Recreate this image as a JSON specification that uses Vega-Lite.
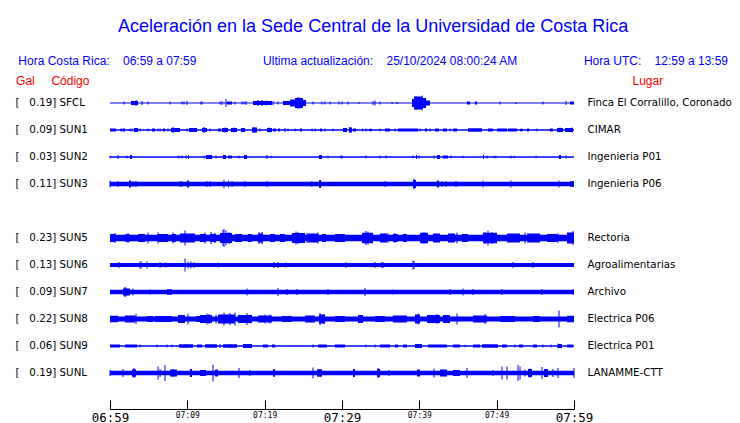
{
  "$schema": "https://vega.github.io/schema/vega-lite/v6.json",
  "width": 464,
  "height": 297,
  "autosize": "none",
  "padding": {"left": 110, "top": 89.5, "right": 166, "bottom": 36.5},
  "background": "white",
  "title": {
    "text": "Aceleración en la Sede Central de la Universidad de Costa Rica",
    "subtitle": "Hora Costa Rica:\u00a0\u00a0\u00a0\u00a006:59 a 07:59\u00a0\u00a0\u00a0\u00a0\u00a0\u00a0\u00a0\u00a0\u00a0\u00a0\u00a0\u00a0\u00a0\u00a0\u00a0\u00a0\u00a0\u00a0\u00a0\u00a0Ultima actualización:\u00a0\u00a0\u00a0\u00a025/10/2024 08:00:24 AM\u00a0\u00a0\u00a0\u00a0\u00a0\u00a0\u00a0\u00a0\u00a0\u00a0\u00a0\u00a0\u00a0\u00a0\u00a0\u00a0\u00a0\u00a0\u00a0\u00a0Hora UTC:\u00a0\u00a0\u00a0\u00a012:59 a 13:59\u00a0\u00a0",
    "anchor": "middle",
    "frame": "bounds",
    "font": "Liberation Sans",
    "fontSize": 18,
    "fontWeight": "normal",
    "color": "#0000ff",
    "subtitleFont": "Liberation Sans",
    "subtitleFontSize": 12,
    "subtitleColor": "#0000ff",
    "subtitlePadding": 20,
    "offset": 7
  },
  "config": {"view": {"stroke": null}, "axis": {"grid": false}},
  "datasets": {
    "stations": [
      {"row": 0, "code": "SFCL", "label": "[\u00a0\u00a0\u00a00.19] SFCL", "lugar": "Finca El Corralillo, Coronado", "noise": 1.2},
      {"row": 1, "code": "SUN1", "label": "[\u00a0\u00a0\u00a00.09] SUN1", "lugar": "CIMAR", "noise": 1.6},
      {"row": 2, "code": "SUN2", "label": "[\u00a0\u00a0\u00a00.03] SUN2", "lugar": "Ingenieria P01", "noise": 1.5},
      {"row": 3, "code": "SUN3", "label": "[\u00a0\u00a0\u00a00.11] SUN3", "lugar": "Ingenieria P06", "noise": 4.5},
      {"row": 4, "code": "SUN4", "label": "", "lugar": "", "noise": 0},
      {"row": 5, "code": "SUN5", "label": "[\u00a0\u00a0\u00a00.23] SUN5", "lugar": "Rectoria", "noise": 6.5},
      {"row": 6, "code": "SUN6", "label": "[\u00a0\u00a0\u00a00.13] SUN6", "lugar": "Agroalimentarias", "noise": 4},
      {"row": 7, "code": "SUN7", "label": "[\u00a0\u00a0\u00a00.09] SUN7", "lugar": "Archivo", "noise": 4.5},
      {"row": 8, "code": "SUN8", "label": "[\u00a0\u00a0\u00a00.22] SUN8", "lugar": "Electrica P06", "noise": 5},
      {"row": 9, "code": "SUN9", "label": "[\u00a0\u00a0\u00a00.06] SUN9", "lugar": "Electrica P01", "noise": 1.5},
      {"row": 10, "code": "SUNL", "label": "[\u00a0\u00a0\u00a00.19] SUNL", "lugar": "LANAMME-CTT", "noise": 4.5}
    ],
    "bursts": [
      {"code": "SFCL", "t": 2.72, "t2": 3.62, "a": 4},
      {"code": "SFCL", "t": 15.13, "t2": 15.78, "a": 3},
      {"code": "SFCL", "t": 18.49, "t2": 20.95, "a": 4},
      {"code": "SFCL", "t": 22.37, "t2": 23.28, "a": 4},
      {"code": "SFCL", "t": 23.28, "t2": 23.92, "a": 7},
      {"code": "SFCL", "t": 23.92, "t2": 24.96, "a": 10},
      {"code": "SFCL", "t": 24.96, "t2": 25.35, "a": 6},
      {"code": "SFCL", "t": 39.05, "t2": 39.31, "a": 8},
      {"code": "SFCL", "t": 39.31, "t2": 40.34, "a": 13},
      {"code": "SFCL", "t": 40.34, "t2": 40.86, "a": 10},
      {"code": "SFCL", "t": 40.86, "t2": 41.38, "a": 5},
      {"code": "SFCL", "t": 46.16, "t2": 46.55, "a": 3},
      {"code": "SFCL", "t": 47.2, "t2": 47.46, "a": 3},
      {"code": "SFCL", "t": 59.48, "t2": 60, "a": 3},
      {"code": "SUN1", "t": 0, "t2": 0.78, "a": 3},
      {"code": "SUN1", "t": 1.68, "t2": 1.94, "a": 3},
      {"code": "SUN1", "t": 3.1, "t2": 3.62, "a": 4},
      {"code": "SUN1", "t": 5.43, "t2": 5.82, "a": 3},
      {"code": "SUN1", "t": 6.85, "t2": 7.11, "a": 3},
      {"code": "SUN1", "t": 7.89, "t2": 9.05, "a": 4},
      {"code": "SUN1", "t": 10.22, "t2": 11.25, "a": 4},
      {"code": "SUN1", "t": 11.9, "t2": 12.54, "a": 4},
      {"code": "SUN1", "t": 13.97, "t2": 14.35, "a": 3},
      {"code": "SUN1", "t": 14.48, "t2": 15.26, "a": 4},
      {"code": "SUN1", "t": 15.65, "t2": 16.42, "a": 4},
      {"code": "SUN1", "t": 16.94, "t2": 17.46, "a": 4},
      {"code": "SUN1", "t": 18.36, "t2": 19.01, "a": 5},
      {"code": "SUN1", "t": 20.3, "t2": 20.95, "a": 4},
      {"code": "SUN1", "t": 21.08, "t2": 21.47, "a": 3},
      {"code": "SUN1", "t": 21.72, "t2": 21.98, "a": 3},
      {"code": "SUN1", "t": 24.57, "t2": 24.83, "a": 3},
      {"code": "SUN1", "t": 27.16, "t2": 27.41, "a": 3},
      {"code": "SUN1", "t": 30.13, "t2": 30.65, "a": 4},
      {"code": "SUN1", "t": 30.91, "t2": 31.29, "a": 5},
      {"code": "SUN1", "t": 31.42, "t2": 31.81, "a": 3},
      {"code": "SUN1", "t": 32.59, "t2": 32.72, "a": 3},
      {"code": "SUN1", "t": 33.49, "t2": 33.88, "a": 2.5},
      {"code": "SUN1", "t": 35.56, "t2": 36.21, "a": 3},
      {"code": "SUN1", "t": 37.24, "t2": 39.83, "a": 3},
      {"code": "SUN1", "t": 40.73, "t2": 40.99, "a": 3},
      {"code": "SUN1", "t": 42.03, "t2": 42.54, "a": 3},
      {"code": "SUN1", "t": 43.06, "t2": 43.58, "a": 3},
      {"code": "SUN1", "t": 44.35, "t2": 44.87, "a": 3},
      {"code": "SUN1", "t": 46.29, "t2": 48.1, "a": 3.5},
      {"code": "SUN1", "t": 48.88, "t2": 49.52, "a": 3},
      {"code": "SUN1", "t": 50.04, "t2": 51.34, "a": 3},
      {"code": "SUN1", "t": 51.47, "t2": 52.63, "a": 3},
      {"code": "SUN1", "t": 53.02, "t2": 53.41, "a": 2.5},
      {"code": "SUN1", "t": 53.92, "t2": 54.18, "a": 3},
      {"code": "SUN1", "t": 56.9, "t2": 57.28, "a": 3},
      {"code": "SUN1", "t": 57.8, "t2": 58.58, "a": 4},
      {"code": "SUN1", "t": 58.84, "t2": 59.87, "a": 4},
      {"code": "SUN2", "t": 2.59, "t2": 2.84, "a": 4},
      {"code": "SUN2", "t": 10.09, "t2": 10.22, "a": 4},
      {"code": "SUN2", "t": 12.41, "t2": 13.19, "a": 4},
      {"code": "SUN2", "t": 14.61, "t2": 15, "a": 4},
      {"code": "SUN2", "t": 15.26, "t2": 15.78, "a": 3},
      {"code": "SUN2", "t": 17.33, "t2": 17.72, "a": 4},
      {"code": "SUN2", "t": 27.03, "t2": 27.41, "a": 4},
      {"code": "SUN2", "t": 39.57, "t2": 39.7, "a": 4},
      {"code": "SUN2", "t": 42.28, "t2": 42.67, "a": 4},
      {"code": "SUN2", "t": 43.06, "t2": 43.71, "a": 3},
      {"code": "SUN2", "t": 48.23, "t2": 48.36, "a": 4},
      {"code": "SUN2", "t": 58.06, "t2": 58.32, "a": 4},
      {"code": "SUN3", "t": 2.46, "t2": 2.72, "a": 7},
      {"code": "SUN3", "t": 9.96, "t2": 10.22, "a": 7},
      {"code": "SUN3", "t": 15.26, "t2": 15.39, "a": 7},
      {"code": "SUN3", "t": 27.03, "t2": 27.29, "a": 8},
      {"code": "SUN3", "t": 39.18, "t2": 39.57, "a": 8},
      {"code": "SUN3", "t": 42.28, "t2": 42.54, "a": 7},
      {"code": "SUN3", "t": 59.48, "t2": 60, "a": 5.5},
      {"code": "SUN5", "t": 0, "t2": 0.65, "a": 8},
      {"code": "SUN5", "t": 1.94, "t2": 2.59, "a": 7.5},
      {"code": "SUN5", "t": 3.62, "t2": 4.53, "a": 8},
      {"code": "SUN5", "t": 6.21, "t2": 7.5, "a": 8},
      {"code": "SUN5", "t": 8.02, "t2": 8.53, "a": 8},
      {"code": "SUN5", "t": 9.05, "t2": 10.99, "a": 9},
      {"code": "SUN5", "t": 11.64, "t2": 12.41, "a": 8},
      {"code": "SUN5", "t": 12.93, "t2": 13.71, "a": 8},
      {"code": "SUN5", "t": 14.22, "t2": 15.78, "a": 10},
      {"code": "SUN5", "t": 16.16, "t2": 17.07, "a": 8},
      {"code": "SUN5", "t": 17.84, "t2": 18.36, "a": 8},
      {"code": "SUN5", "t": 19.14, "t2": 19.78, "a": 9},
      {"code": "SUN5", "t": 20.69, "t2": 21.34, "a": 8},
      {"code": "SUN5", "t": 21.98, "t2": 22.63, "a": 8},
      {"code": "SUN5", "t": 23.53, "t2": 25.22, "a": 10},
      {"code": "SUN5", "t": 25.6, "t2": 26.9, "a": 9},
      {"code": "SUN5", "t": 27.41, "t2": 27.93, "a": 8},
      {"code": "SUN5", "t": 29.09, "t2": 30.39, "a": 8},
      {"code": "SUN5", "t": 32.59, "t2": 34.01, "a": 10.5},
      {"code": "SUN5", "t": 34.91, "t2": 35.82, "a": 9},
      {"code": "SUN5", "t": 36.59, "t2": 37.24, "a": 8},
      {"code": "SUN5", "t": 37.89, "t2": 38.4, "a": 8},
      {"code": "SUN5", "t": 40.09, "t2": 41.12, "a": 10.5},
      {"code": "SUN5", "t": 41.77, "t2": 42.67, "a": 9},
      {"code": "SUN5", "t": 43.71, "t2": 44.61, "a": 9},
      {"code": "SUN5", "t": 45.52, "t2": 46.29, "a": 8},
      {"code": "SUN5", "t": 48.23, "t2": 50.04, "a": 10.5},
      {"code": "SUN5", "t": 51.34, "t2": 53.02, "a": 9},
      {"code": "SUN5", "t": 53.92, "t2": 55.6, "a": 9},
      {"code": "SUN5", "t": 56.51, "t2": 57.8, "a": 8},
      {"code": "SUN5", "t": 59.1, "t2": 60, "a": 11},
      {"code": "SUN7", "t": 1.68, "t2": 2.59, "a": 7},
      {"code": "SUN7", "t": 7.37, "t2": 8.02, "a": 5.5},
      {"code": "SUN8", "t": 0, "t2": 1.03, "a": 6.5},
      {"code": "SUN8", "t": 1.94, "t2": 3.23, "a": 7},
      {"code": "SUN8", "t": 4.78, "t2": 5.56, "a": 6},
      {"code": "SUN8", "t": 5.82, "t2": 8.02, "a": 6},
      {"code": "SUN8", "t": 8.79, "t2": 9.7, "a": 8},
      {"code": "SUN8", "t": 11.12, "t2": 11.64, "a": 6},
      {"code": "SUN8", "t": 11.64, "t2": 13.19, "a": 8},
      {"code": "SUN8", "t": 13.97, "t2": 16.16, "a": 9},
      {"code": "SUN8", "t": 16.55, "t2": 18.36, "a": 8},
      {"code": "SUN8", "t": 19.14, "t2": 20.95, "a": 7},
      {"code": "SUN8", "t": 22.24, "t2": 23.53, "a": 6},
      {"code": "SUN8", "t": 25.22, "t2": 26.51, "a": 7},
      {"code": "SUN8", "t": 27.03, "t2": 27.8, "a": 9},
      {"code": "SUN8", "t": 29.09, "t2": 30.39, "a": 6},
      {"code": "SUN8", "t": 32.07, "t2": 32.72, "a": 8},
      {"code": "SUN8", "t": 34.27, "t2": 35.56, "a": 6},
      {"code": "SUN8", "t": 36.59, "t2": 38.4, "a": 7},
      {"code": "SUN8", "t": 39.44, "t2": 40.09, "a": 9},
      {"code": "SUN8", "t": 40.99, "t2": 42.67, "a": 8},
      {"code": "SUN8", "t": 43.06, "t2": 43.97, "a": 8},
      {"code": "SUN8", "t": 46.94, "t2": 48.75, "a": 7},
      {"code": "SUN8", "t": 50.43, "t2": 52.37, "a": 6},
      {"code": "SUN8", "t": 54.7, "t2": 55.6, "a": 6},
      {"code": "SUN8", "t": 59.1, "t2": 60, "a": 6.5},
      {"code": "SUN9", "t": 0, "t2": 1.29, "a": 3},
      {"code": "SUN9", "t": 1.94, "t2": 3.49, "a": 3},
      {"code": "SUN9", "t": 8.92, "t2": 10.73, "a": 3.5},
      {"code": "SUN9", "t": 11.25, "t2": 11.9, "a": 3},
      {"code": "SUN9", "t": 12.28, "t2": 13.84, "a": 3.5},
      {"code": "SUN9", "t": 14.61, "t2": 16.42, "a": 3.5},
      {"code": "SUN9", "t": 17.2, "t2": 18.36, "a": 4},
      {"code": "SUN9", "t": 19.78, "t2": 20.43, "a": 3},
      {"code": "SUN9", "t": 20.95, "t2": 21.34, "a": 3},
      {"code": "SUN9", "t": 26.9, "t2": 28.06, "a": 3},
      {"code": "SUN9", "t": 29.09, "t2": 30.39, "a": 3},
      {"code": "SUN9", "t": 34.91, "t2": 36.21, "a": 3},
      {"code": "SUN9", "t": 36.85, "t2": 37.24, "a": 3},
      {"code": "SUN9", "t": 37.89, "t2": 38.4, "a": 3},
      {"code": "SUN9", "t": 39.44, "t2": 40.34, "a": 4},
      {"code": "SUN9", "t": 41.12, "t2": 43.58, "a": 3},
      {"code": "SUN9", "t": 44.35, "t2": 45.26, "a": 3},
      {"code": "SUN9", "t": 46.94, "t2": 47.84, "a": 3},
      {"code": "SUN9", "t": 48.1, "t2": 50.17, "a": 3.5},
      {"code": "SUN9", "t": 50.69, "t2": 51.34, "a": 3},
      {"code": "SUN9", "t": 52.89, "t2": 53.41, "a": 3},
      {"code": "SUN9", "t": 54.7, "t2": 55.22, "a": 3},
      {"code": "SUN9", "t": 57.93, "t2": 58.45, "a": 4},
      {"code": "SUN9", "t": 59.1, "t2": 59.87, "a": 3},
      {"code": "SUNL", "t": 2.84, "t2": 3.36, "a": 7.5},
      {"code": "SUNL", "t": 7.76, "t2": 8.66, "a": 7},
      {"code": "SUNL", "t": 10.34, "t2": 10.6, "a": 8},
      {"code": "SUNL", "t": 11.64, "t2": 12.41, "a": 6},
      {"code": "SUNL", "t": 13.58, "t2": 13.97, "a": 7},
      {"code": "SUNL", "t": 21.08, "t2": 21.34, "a": 7.5},
      {"code": "SUNL", "t": 26.77, "t2": 27.41, "a": 7.5},
      {"code": "SUNL", "t": 31.42, "t2": 31.68, "a": 8},
      {"code": "SUNL", "t": 34.53, "t2": 34.91, "a": 8},
      {"code": "SUNL", "t": 39.7, "t2": 40.09, "a": 7},
      {"code": "SUNL", "t": 42.67, "t2": 43.58, "a": 7},
      {"code": "SUNL", "t": 44.35, "t2": 45.26, "a": 6},
      {"code": "SUNL", "t": 54.05, "t2": 54.57, "a": 8},
      {"code": "SUNL", "t": 56.12, "t2": 56.64, "a": 8}
    ],
    "spikes": [
      {"code": "SFCL", "t": 1.81, "a": 3}, {"code": "SFCL", "t": 3.36, "a": 6}, {"code": "SFCL", "t": 4.14, "a": 4},
      {"code": "SFCL", "t": 4.91, "a": 3}, {"code": "SFCL", "t": 7.76, "a": 3}, {"code": "SFCL", "t": 9.31, "a": 3},
      {"code": "SFCL", "t": 9.57, "a": 3}, {"code": "SFCL", "t": 9.96, "a": 4}, {"code": "SFCL", "t": 11.77, "a": 3},
      {"code": "SFCL", "t": 11.9, "a": 3}, {"code": "SFCL", "t": 14.22, "a": 3}, {"code": "SFCL", "t": 14.48, "a": 4},
      {"code": "SFCL", "t": 15.0, "a": 8}, {"code": "SFCL", "t": 16.16, "a": 3}, {"code": "SFCL", "t": 17.07, "a": 3},
      {"code": "SFCL", "t": 17.33, "a": 3}, {"code": "SFCL", "t": 17.59, "a": 4}, {"code": "SFCL", "t": 19.14, "a": 6},
      {"code": "SFCL", "t": 19.66, "a": 6}, {"code": "SFCL", "t": 20.17, "a": 5}, {"code": "SFCL", "t": 21.08, "a": 4},
      {"code": "SFCL", "t": 21.72, "a": 3}, {"code": "SFCL", "t": 24.31, "a": 12}, {"code": "SFCL", "t": 24.57, "a": 11},
      {"code": "SFCL", "t": 24.83, "a": 10}, {"code": "SFCL", "t": 26.25, "a": 3}, {"code": "SFCL", "t": 27.41, "a": 3},
      {"code": "SFCL", "t": 27.8, "a": 3}, {"code": "SFCL", "t": 28.45, "a": 3}, {"code": "SFCL", "t": 29.61, "a": 3},
      {"code": "SFCL", "t": 30.0, "a": 3}, {"code": "SFCL", "t": 30.78, "a": 3}, {"code": "SFCL", "t": 32.2, "a": 2},
      {"code": "SFCL", "t": 34.01, "a": 4}, {"code": "SFCL", "t": 34.27, "a": 5}, {"code": "SFCL", "t": 34.91, "a": 3},
      {"code": "SFCL", "t": 36.47, "a": 2}, {"code": "SFCL", "t": 37.11, "a": 2}, {"code": "SFCL", "t": 39.57, "a": 14},
      {"code": "SFCL", "t": 40.38, "a": 15}, {"code": "SFCL", "t": 50.43, "a": 3}, {"code": "SFCL", "t": 52.5, "a": 2},
      {"code": "SFCL", "t": 55.99, "a": 3}, {"code": "SFCL", "t": 58.97, "a": 4},
      {"code": "SUN1", "t": 1.42, "a": 3}, {"code": "SUN1", "t": 1.55, "a": 3}, {"code": "SUN1", "t": 2.59, "a": 3},
      {"code": "SUN1", "t": 2.84, "a": 3}, {"code": "SUN1", "t": 3.88, "a": 3}, {"code": "SUN1", "t": 4.91, "a": 3},
      {"code": "SUN1", "t": 6.21, "a": 3}, {"code": "SUN1", "t": 6.47, "a": 3}, {"code": "SUN1", "t": 7.5, "a": 3},
      {"code": "SUN1", "t": 8.15, "a": 6}, {"code": "SUN1", "t": 9.96, "a": 3}, {"code": "SUN1", "t": 12.16, "a": 6},
      {"code": "SUN1", "t": 12.93, "a": 3}, {"code": "SUN1", "t": 14.87, "a": 5}, {"code": "SUN1", "t": 16.03, "a": 5},
      {"code": "SUN1", "t": 18.62, "a": 6}, {"code": "SUN1", "t": 19.4, "a": 3}, {"code": "SUN1", "t": 20.56, "a": 5},
      {"code": "SUN1", "t": 22.63, "a": 4}, {"code": "SUN1", "t": 23.02, "a": 3}, {"code": "SUN1", "t": 23.92, "a": 3},
      {"code": "SUN1", "t": 26.12, "a": 3}, {"code": "SUN1", "t": 26.51, "a": 3}, {"code": "SUN1", "t": 27.8, "a": 3},
      {"code": "SUN1", "t": 28.84, "a": 3}, {"code": "SUN1", "t": 31.03, "a": 6}, {"code": "SUN1", "t": 33.1, "a": 3},
      {"code": "SUN1", "t": 34.91, "a": 3}, {"code": "SUN1", "t": 36.85, "a": 3}, {"code": "SUN1", "t": 40.09, "a": 3},
      {"code": "SUN1", "t": 41.38, "a": 3}, {"code": "SUN1", "t": 43.97, "a": 3}, {"code": "SUN1", "t": 55.22, "a": 3},
      {"code": "SUN1", "t": 58.19, "a": 5}, {"code": "SUN1", "t": 59.74, "a": 5},
      {"code": "SUN2", "t": 0, "a": 3}, {"code": "SUN2", "t": 1.03, "a": 4}, {"code": "SUN2", "t": 2.2, "a": 3},
      {"code": "SUN2", "t": 8.92, "a": 3}, {"code": "SUN2", "t": 9.31, "a": 3}, {"code": "SUN2", "t": 9.83, "a": 3},
      {"code": "SUN2", "t": 12.16, "a": 3}, {"code": "SUN2", "t": 13.71, "a": 3}, {"code": "SUN2", "t": 16.68, "a": 3},
      {"code": "SUN2", "t": 20.3, "a": 4}, {"code": "SUN2", "t": 20.82, "a": 2.5}, {"code": "SUN2", "t": 28.19, "a": 3},
      {"code": "SUN2", "t": 29.87, "a": 3}, {"code": "SUN2", "t": 30.0, "a": 3}, {"code": "SUN2", "t": 33.1, "a": 3},
      {"code": "SUN2", "t": 34.91, "a": 3}, {"code": "SUN2", "t": 35.69, "a": 3}, {"code": "SUN2", "t": 39.18, "a": 3},
      {"code": "SUN2", "t": 39.96, "a": 3}, {"code": "SUN2", "t": 41.9, "a": 3}, {"code": "SUN2", "t": 44.09, "a": 3},
      {"code": "SUN2", "t": 45.65, "a": 2.5}, {"code": "SUN2", "t": 48.75, "a": 3}, {"code": "SUN2", "t": 49.65, "a": 2.5},
      {"code": "SUN2", "t": 49.91, "a": 2.5}, {"code": "SUN2", "t": 51.85, "a": 3}, {"code": "SUN2", "t": 52.24, "a": 2.5},
      {"code": "SUN2", "t": 55.09, "a": 2.5}, {"code": "SUN2", "t": 58.97, "a": 3},
      {"code": "SUN3", "t": 0, "a": 7}, {"code": "SUN3", "t": 1.03, "a": 6}, {"code": "SUN3", "t": 2.97, "a": 6},
      {"code": "SUN3", "t": 3.36, "a": 6}, {"code": "SUN3", "t": 9.05, "a": 6}, {"code": "SUN3", "t": 9.31, "a": 6},
      {"code": "SUN3", "t": 12.54, "a": 6}, {"code": "SUN3", "t": 12.93, "a": 6}, {"code": "SUN3", "t": 14.74, "a": 8},
      {"code": "SUN3", "t": 15.78, "a": 6}, {"code": "SUN3", "t": 17.46, "a": 6}, {"code": "SUN3", "t": 20.3, "a": 6},
      {"code": "SUN3", "t": 26.12, "a": 6}, {"code": "SUN3", "t": 35.56, "a": 6}, {"code": "SUN3", "t": 39.31, "a": 10},
      {"code": "SUN3", "t": 42.93, "a": 6}, {"code": "SUN3", "t": 43.45, "a": 6}, {"code": "SUN3", "t": 44.74, "a": 6},
      {"code": "SUN3", "t": 48.23, "a": 7}, {"code": "SUN3", "t": 51.85, "a": 7}, {"code": "SUN3", "t": 58.06, "a": 7},
      {"code": "SUN5", "t": 0.65, "a": 10}, {"code": "SUN5", "t": 2.33, "a": 10}, {"code": "SUN5", "t": 4.91, "a": 11},
      {"code": "SUN5", "t": 6.21, "a": 11}, {"code": "SUN5", "t": 8.15, "a": 11}, {"code": "SUN5", "t": 9.7, "a": 15},
      {"code": "SUN5", "t": 12.28, "a": 11}, {"code": "SUN5", "t": 13.06, "a": 12}, {"code": "SUN5", "t": 13.58, "a": 10},
      {"code": "SUN5", "t": 14.61, "a": 16}, {"code": "SUN5", "t": 14.74, "a": 18}, {"code": "SUN5", "t": 15.0, "a": 15},
      {"code": "SUN5", "t": 15.39, "a": 12}, {"code": "SUN5", "t": 19.27, "a": 12}, {"code": "SUN5", "t": 19.66, "a": 12},
      {"code": "SUN5", "t": 24.05, "a": 13}, {"code": "SUN5", "t": 24.31, "a": 12}, {"code": "SUN5", "t": 25.48, "a": 10},
      {"code": "SUN5", "t": 26.9, "a": 11}, {"code": "SUN5", "t": 33.1, "a": 14}, {"code": "SUN5", "t": 33.36, "a": 13},
      {"code": "SUN5", "t": 35.95, "a": 10}, {"code": "SUN5", "t": 36.85, "a": 10}, {"code": "SUN5", "t": 40.6, "a": 12},
      {"code": "SUN5", "t": 44.87, "a": 11}, {"code": "SUN5", "t": 48.49, "a": 12}, {"code": "SUN5", "t": 48.88, "a": 15},
      {"code": "SUN5", "t": 49.39, "a": 12}, {"code": "SUN5", "t": 53.66, "a": 11}, {"code": "SUN5", "t": 57.93, "a": 10},
      {"code": "SUN5", "t": 59.87, "a": 14},
      {"code": "SUN6", "t": 1.16, "a": 6}, {"code": "SUN6", "t": 3.88, "a": 7}, {"code": "SUN6", "t": 4.01, "a": 7},
      {"code": "SUN6", "t": 4.78, "a": 7}, {"code": "SUN6", "t": 6.47, "a": 6}, {"code": "SUN6", "t": 7.24, "a": 5},
      {"code": "SUN6", "t": 9.7, "a": 13}, {"code": "SUN6", "t": 10.09, "a": 7}, {"code": "SUN6", "t": 10.47, "a": 7},
      {"code": "SUN6", "t": 10.86, "a": 6}, {"code": "SUN6", "t": 13.97, "a": 5}, {"code": "SUN6", "t": 21.21, "a": 6},
      {"code": "SUN6", "t": 21.72, "a": 6}, {"code": "SUN6", "t": 22.76, "a": 5}, {"code": "SUN6", "t": 30.52, "a": 6},
      {"code": "SUN6", "t": 34.27, "a": 6}, {"code": "SUN6", "t": 35.17, "a": 6}, {"code": "SUN6", "t": 35.3, "a": 6},
      {"code": "SUN6", "t": 39.18, "a": 9}, {"code": "SUN6", "t": 39.31, "a": 8}, {"code": "SUN6", "t": 52.11, "a": 6},
      {"code": "SUN6", "t": 54.7, "a": 6},
      {"code": "SUN7", "t": 1.94, "a": 10}, {"code": "SUN7", "t": 2.07, "a": 9}, {"code": "SUN7", "t": 2.97, "a": 7},
      {"code": "SUN7", "t": 5.17, "a": 5}, {"code": "SUN7", "t": 17.72, "a": 7}, {"code": "SUN7", "t": 21.72, "a": 8},
      {"code": "SUN7", "t": 22.89, "a": 6}, {"code": "SUN7", "t": 24.18, "a": 6}, {"code": "SUN7", "t": 28.19, "a": 6},
      {"code": "SUN7", "t": 32.97, "a": 8}, {"code": "SUN7", "t": 36.59, "a": 5}, {"code": "SUN7", "t": 43.97, "a": 6},
      {"code": "SUN7", "t": 45.65, "a": 7}, {"code": "SUN7", "t": 46.94, "a": 6}, {"code": "SUN7", "t": 50.69, "a": 6},
      {"code": "SUN7", "t": 55.86, "a": 6}, {"code": "SUN7", "t": 59.87, "a": 6},
      {"code": "SUN8", "t": 3.36, "a": 10}, {"code": "SUN8", "t": 10.09, "a": 11}, {"code": "SUN8", "t": 12.54, "a": 11},
      {"code": "SUN8", "t": 12.8, "a": 10}, {"code": "SUN8", "t": 13.71, "a": 9}, {"code": "SUN8", "t": 14.74, "a": 13},
      {"code": "SUN8", "t": 15.52, "a": 12}, {"code": "SUN8", "t": 16.16, "a": 13}, {"code": "SUN8", "t": 17.72, "a": 12},
      {"code": "SUN8", "t": 18.1, "a": 9}, {"code": "SUN8", "t": 20.04, "a": 9}, {"code": "SUN8", "t": 20.69, "a": 9},
      {"code": "SUN8", "t": 27.16, "a": 12}, {"code": "SUN8", "t": 27.67, "a": 10}, {"code": "SUN8", "t": 39.83, "a": 11},
      {"code": "SUN8", "t": 42.28, "a": 10}, {"code": "SUN8", "t": 44.87, "a": 11}, {"code": "SUN8", "t": 48.49, "a": 10},
      {"code": "SUN8", "t": 58.06, "a": 17},
      {"code": "SUN9", "t": 3.88, "a": 3}, {"code": "SUN9", "t": 6.08, "a": 3}, {"code": "SUN9", "t": 7.37, "a": 3},
      {"code": "SUN9", "t": 8.02, "a": 3}, {"code": "SUN9", "t": 9.83, "a": 4}, {"code": "SUN9", "t": 14.22, "a": 4},
      {"code": "SUN9", "t": 15.52, "a": 4}, {"code": "SUN9", "t": 26.25, "a": 3}, {"code": "SUN9", "t": 33.1, "a": 3},
      {"code": "SUN9", "t": 34.27, "a": 3}, {"code": "SUN9", "t": 45.91, "a": 2.5}, {"code": "SUN9", "t": 52.37, "a": 3},
      {"code": "SUN9", "t": 55.99, "a": 3}, {"code": "SUN9", "t": 57.03, "a": 3}, {"code": "SUN9", "t": 57.93, "a": 5},
      {"code": "SUNL", "t": 0, "a": 6}, {"code": "SUNL", "t": 1.68, "a": 8}, {"code": "SUNL", "t": 3.1, "a": 10},
      {"code": "SUNL", "t": 6.21, "a": 13}, {"code": "SUNL", "t": 6.47, "a": 8}, {"code": "SUNL", "t": 7.11, "a": 16},
      {"code": "SUNL", "t": 8.15, "a": 8}, {"code": "SUNL", "t": 13.32, "a": 17}, {"code": "SUNL", "t": 16.68, "a": 10},
      {"code": "SUNL", "t": 18.1, "a": 6}, {"code": "SUNL", "t": 26.25, "a": 11}, {"code": "SUNL", "t": 34.66, "a": 10},
      {"code": "SUNL", "t": 36.08, "a": 6}, {"code": "SUNL", "t": 41.9, "a": 9}, {"code": "SUNL", "t": 46.16, "a": 10},
      {"code": "SUNL", "t": 49.52, "a": 6}, {"code": "SUNL", "t": 50.69, "a": 13}, {"code": "SUNL", "t": 51.34, "a": 13},
      {"code": "SUNL", "t": 52.76, "a": 16}, {"code": "SUNL", "t": 53.02, "a": 13}, {"code": "SUNL", "t": 53.66, "a": 7},
      {"code": "SUNL", "t": 54.31, "a": 9}, {"code": "SUNL", "t": 55.86, "a": 12}, {"code": "SUNL", "t": 57.28, "a": 8},
      {"code": "SUNL", "t": 57.93, "a": 10}, {"code": "SUNL", "t": 60, "a": 10}
    ]
  },
  "layer": [
    {
      "layer": [
        {
          "data": {"name": "stations"},
          "mark": {"type": "bar", "color": "#0000ff"},
          "encoding": {
            "x": {
              "datum": 0, "type": "quantitative",
              "scale": {"domain": [0, 60], "nice": false, "zero": false},
              "axis": {
                "title": null,
                "values": [0, 5, 10, 15, 20, 25, 30, 35, 40, 45, 50, 55, 60],
                "offset": 22.5,
                "domainColor": "black",
                "domainWidth": 1,
                "tickColor": "black",
                "tickWidth": 1,
                "tickSize": -9,
                "labelExpr": "datum.value % 10 ? '' : timeFormat(datetime(2024, 9, 25, 6, 59 + datum.value), '%H:%M')",
                "labelFont": "DejaVu Sans Mono",
                "labelFontSize": {"condition": {"test": "datum.value % 30 === 0", "value": 12.5}, "value": 8},
                "labelColor": "black",
                "labelBaseline": "top",
                "labelPadding": 11,
                "labelFlush": false,
                "labelOverlap": false,
                "grid": false
              }
            },
            "x2": {"datum": 60},
            "y": {"field": "code", "type": "nominal", "axis": null, "scale": {"type": "band", "paddingInner": 0, "paddingOuter": 0}},
            "size": {"field": "noise", "type": "quantitative", "legend": null, "scale": {"type": "linear", "domain": [0, 20], "range": [0, 20]}}
          }
        },
        {
          "data": {"name": "bursts"},
          "mark": {"type": "bar", "color": "#0000ff"},
          "encoding": {
            "x": {"field": "t", "type": "quantitative", "title": null},
            "x2": {"field": "t2"},
            "y": {"field": "code", "type": "nominal"},
            "size": {"field": "a", "type": "quantitative"}
          }
        },
        {
          "data": {"name": "spikes"},
          "mark": {"type": "tick", "color": "#0000ff", "thickness": 1, "opacity": 1},
          "encoding": {
            "x": {"field": "t", "type": "quantitative", "title": null},
            "y": {"field": "code", "type": "nominal"},
            "size": {"field": "a", "type": "quantitative"}
          }
        }
      ]
    },
    {
      "data": {"name": "stations"},
      "mark": {"type": "point", "opacity": 0},
      "encoding": {
        "y": {
          "field": "label", "type": "nominal",
          "sort": {"field": "row", "op": "min"},
          "title": "Gal\u00a0\u00a0\u00a0\u00a0\u00a0Código",
          "scale": {"type": "band", "paddingInner": 0, "paddingOuter": 0},
          "axis": {
            "orient": "left", "domain": false, "ticks": false, "tickSize": 0,
            "labelAlign": "left", "labelBaseline": "middle", "labelPadding": 95,
            "labelFont": "DejaVu Sans", "labelFontSize": 10.3, "labelColor": "black",
            "titleAngle": 0, "titleAlign": "left", "titleBaseline": "alphabetic",
            "titleX": -94.4, "titleY": -5.5,
            "titleFont": "Liberation Sans", "titleFontSize": 12, "titleFontWeight": "normal", "titleColor": "#ff0000"
          }
        }
      }
    },
    {
      "data": {"name": "stations"},
      "mark": {"type": "point", "opacity": 0},
      "encoding": {
        "y": {
          "field": "lugar", "type": "nominal",
          "sort": {"field": "row", "op": "min"},
          "title": "Lugar",
          "scale": {"type": "band", "paddingInner": 0, "paddingOuter": 0},
          "axis": {
            "orient": "right", "domain": false, "ticks": false, "tickSize": 0,
            "labelAlign": "left", "labelBaseline": "middle", "labelPadding": 13,
            "labelFont": "DejaVu Sans", "labelFontSize": 10.3, "labelColor": "black",
            "titleAngle": 0, "titleAlign": "left", "titleBaseline": "alphabetic",
            "titleX": 58, "titleY": -5.5,
            "titleFont": "Liberation Sans", "titleFontSize": 12, "titleFontWeight": "normal", "titleColor": "#ff0000"
          }
        }
      }
    }
  ],
  "resolve": {"scale": {"y": "independent"}}
}
